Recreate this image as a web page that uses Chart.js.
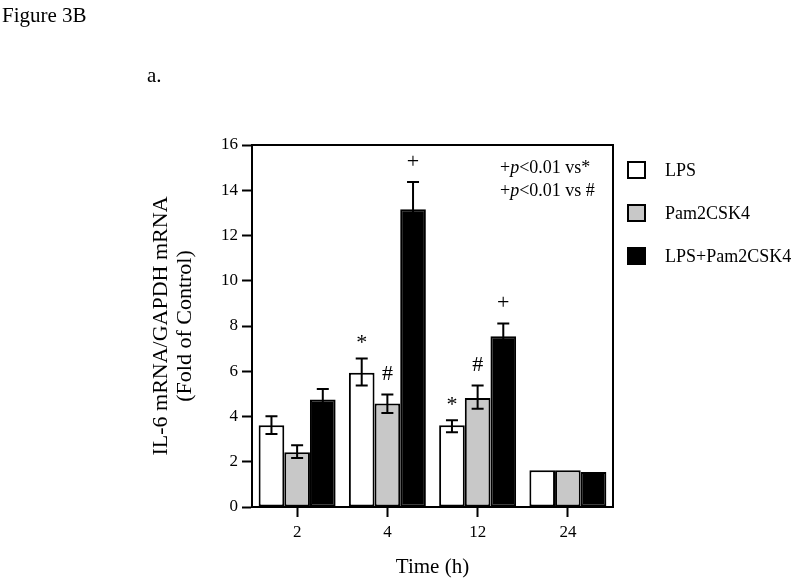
<!DOCTYPE html>
<html>
<head>
<meta charset="utf-8">
<script src="https://cdn.jsdelivr.net/npm/chart.js@4.4.1/dist/chart.umd.min.js"></script>
<style>
  body { margin: 0; background: #fff; }
  canvas { display: block; }
</style>
</head>
<body>
<canvas id="chart" width="800" height="584"></canvas>
<script>
// data
const times = ["2", "4", "12", "24"];
const seriesNames = ["LPS", "Pam2CSK4", "LPS+Pam2CSK4"];

const lpsValues = [3.61, 5.93, 3.61, 1.62];
const lpsHigh = [4.01, 6.56, 3.83, null];
const lpsLow = [3.23, 5.37, 3.30, null];
const lpsMarks = ["", "*", "*", ""];

const pamValues = [2.42, 4.57, 4.82, 1.62];
const pamHigh = [2.73, 4.97, 5.37, null];
const pamLow = [2.17, 4.16, 4.34, null];
const pamMarks = ["", "#", "#", ""];

const comboValues = [4.75, 13.16, 7.55, 1.55];
const comboHigh = [5.22, 14.37, 8.11, null];
const comboLow = [4.28, 11.95, 6.99, null];
const comboMarks = ["", "+", "+", ""];

const yTicks = [0, 2, 4, 6, 8, 10, 12, 14, 16];

const SERIF = "'Liberation Serif', 'Times New Roman', 'DejaVu Serif', serif";
Chart.defaults.font.family = SERIF;
Chart.defaults.color = "#000";

//error bars, significance marks, frame, legend and loose text
const extras = {
  id: "extras",
  afterDatasetsDraw(chart) {
    const ctx = chart.ctx;
    const yScale = chart.scales.y;
    const area = chart.chartArea;
    ctx.save();

    // frame top + right
    ctx.strokeStyle = "#000";
    ctx.lineWidth = 2;
    ctx.beginPath();
    ctx.moveTo(area.left, area.top);
    ctx.lineTo(area.right, area.top);
    ctx.lineTo(area.right, area.bottom);
    ctx.stroke();

    chart.data.datasets.forEach((ds, i) => {
      const meta = chart.getDatasetMeta(i);
      meta.data.forEach((bar, j) => {
        const x = bar.x;
        const top = yScale.getPixelForValue(ds.data[j]);
        ctx.strokeStyle = "#000";
        ctx.lineWidth = 2;
        if (ds.errHigh[j] != null) {
          const hy = yScale.getPixelForValue(ds.errHigh[j]);
          const ly = yScale.getPixelForValue(ds.errLow[j]);
          ctx.beginPath();
          ctx.moveTo(x, top);
          ctx.lineTo(x, hy);
          ctx.moveTo(x - 6, hy);
          ctx.lineTo(x + 6, hy);
          ctx.moveTo(x, top);
          ctx.lineTo(x, ly);
          ctx.moveTo(x - 6, ly);
          ctx.lineTo(x + 6, ly);
          ctx.stroke();
        }
        const mark = ds.marks[j];
        if (mark) {
          const hy = yScale.getPixelForValue(ds.errHigh[j]);
          ctx.fillStyle = "#000";
          ctx.font = "22px " + SERIF;
          ctx.textAlign = "center";
          ctx.textBaseline = "middle";
          ctx.fillText(mark, x, hy - (mark == "*" ? 15 : 20));
        }
      });
    });

    // p value note
    const noteX = area.left + 248;
    const noteLines = [["+", "p", "<0.01 vs*"], ["+", "p", "<0.01 vs #"]];
    noteLines.forEach((parts, k) => {
      let nx = noteX;
      const ny = area.top + 23 + k * 23;
      ctx.textAlign = "left";
      ctx.textBaseline = "middle";
      parts.forEach((part, n) => {
        ctx.font = (n == 1 ? "italic " : "") + "18px " + SERIF;
        ctx.fillText(part, nx, ny);
        nx += ctx.measureText(part).width;
      });
    });

    // legend
    chart.data.datasets.forEach((ds, i) => {
      const ly = 170 + i * 43;
      ctx.fillStyle = ds.backgroundColor;
      ctx.fillRect(628, ly - 8, 17, 16);
      ctx.strokeStyle = "#000";
      ctx.lineWidth = 2;
      ctx.strokeRect(628, ly - 8, 17, 16);
      ctx.fillStyle = "#000";
      ctx.font = "18px " + SERIF;
      ctx.textAlign = "left";
      ctx.textBaseline = "middle";
      ctx.fillText(ds.label, 665, ly + 1);
    });

    ctx.font = "21px " + SERIF;
    ctx.textAlign = "left";
    ctx.textBaseline = "middle";
    ctx.fillText("Figure 3B", 2, 16);
    ctx.fillText("a.", 147, 76);
    ctx.restore();
  },
};

const data = {
  labels: times,
  datasets: [
    {
      label: seriesNames[0],
      data: lpsValues,
      errHigh: lpsHigh,
      errLow: lpsLow,
      marks: lpsMarks,
      backgroundColor: "#ffffff",
    },
    {
      label: seriesNames[1],
      data: pamValues,
      errHigh: pamHigh,
      errLow: pamLow,
      marks: pamMarks,
      backgroundColor: "#c8c8c8",
    },
    {
      label: seriesNames[2],
      data: comboValues,
      errHigh: comboHigh,
      errLow: comboLow,
      marks: comboMarks,
      backgroundColor: "#000000",
    },
  ],
};

const config = {
  type: "bar",
  data: data,
  options: {
    responsive: false,
    animation: false,
    layout: { padding: { left: 0, right: 187, top: 145, bottom: 0 } },
    datasets: {
      bar: {
        borderColor: "#000",
        borderWidth: 2,
        borderSkipped: false,
        categoryPercentage: 0.853,
        barPercentage: 1.0,
      },
    },
    plugins: {
      legend: { display: false },
      tooltip: { enabled: false },
    },
    scales: {
      x: {
        grid: {
          offset: false,
          drawOnChartArea: false,
          drawTicks: true,
          tickLength: 10,
          tickColor: "#000",
          tickWidth: 2,
        },
        border: { display: true, color: "#000", width: 2 },
        ticks: { font: { size: 17 }, padding: 5, color: "#000" },
        title: {
          display: true,
          text: "Time (h)",
          font: { size: 21, lineHeight: 1.1 },
          padding: { top: 0, bottom: 5 },
          color: "#000",
        },
        afterFit: (scale) => {
          scale.height = 77;
        },
      },
      y: {
        min: 0,
        max: 16,
        afterBuildTicks: (scale) => {
          scale.ticks = yTicks.map((v) => ({ value: v }));
        },
        grid: {
          drawOnChartArea: false,
          drawTicks: true,
          tickLength: 10,
          tickColor: "#000",
          tickWidth: 2,
        },
        border: { display: true, color: "#000", width: 2 },
        ticks: { font: { size: 17 }, padding: 4, color: "#000" },
        title: {
          display: true,
          text: ["IL-6 mRNA/GAPDH mRNA", "(Fold of Control)"],
          font: { size: 22, lineHeight: 1.1 },
          padding: { top: 149, bottom: 0 },
          color: "#000",
        },
        afterFit: (scale) => {
          scale.width = 252;
        },
      },
    },
  },
  plugins: [extras],
};

const myChart = new Chart(document.getElementById("chart"), config);
</script>
</body>
</html>
